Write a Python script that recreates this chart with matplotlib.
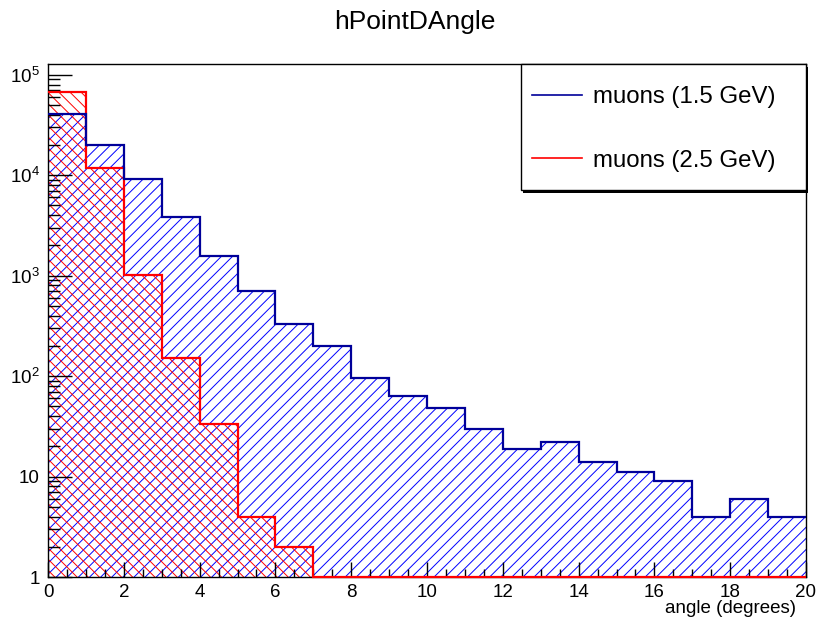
import numpy as np
import matplotlib.pyplot as plt
from matplotlib.patches import Rectangle
from matplotlib.ticker import FixedLocator, MultipleLocator, FuncFormatter, NullFormatter

plt.rcParams['font.family'] = ['Liberation Sans', 'DejaVu Sans']
plt.rcParams['hatch.linewidth'] = 0.7

# Bin edges (degrees) and counts per bin
edges = np.arange(0, 21, 1)
counts_15 = [40300, 19800, 9200, 3850, 1580, 710, 330, 198, 95, 64,
             48, 30, 19, 22, 14, 11, 9, 4, 6, 4]
counts_25 = [67000, 11700, 1020, 150, 33, 4, 2, 0, 0, 0,
             0, 0, 0, 0, 0, 0, 0, 0, 0, 0]
labels = ['muons (1.5 GeV)', 'muons (2.5 GeV)']

ymin, ymax = 1, 1.28e5

fig = plt.figure(figsize=(8.18, 6.21), dpi=100)
ax = fig.add_axes([48 / 818, 44 / 621, 758 / 818, 513 / 621])
ax.set_yscale('log')

# empty bins are drawn on the bottom of the frame, like ROOT does
c15 = np.clip(np.array(counts_15, dtype=float), ymin, None)
c25 = np.clip(np.array(counts_25, dtype=float), ymin, None)

# hatched fills
ax.stairs(c15, edges, baseline=ymin, fill=True, facecolor='none',
          edgecolor='#0000ff', linewidth=0, hatch='///', zorder=1)
ax.stairs(c25, edges, baseline=ymin, fill=True, facecolor='none',
          edgecolor='#ff0000', linewidth=0, hatch='\\\\\\', zorder=1)

# outlines
ax.stairs(c25, edges, baseline=None, color='#ff0000', linewidth=1.6,
          zorder=3, clip_on=False)
ax.stairs(c15, edges, baseline=None, color='#000099', linewidth=1.6,
          zorder=3.1, clip_on=False)

ax.set_xlim(0, 20)
ax.set_ylim(ymin, ymax)

# ticks, ROOT style
ax.xaxis.set_major_locator(MultipleLocator(2))
ax.xaxis.set_minor_locator(MultipleLocator(0.5))
ax.yaxis.set_major_locator(FixedLocator([1, 10, 100, 1e3, 1e4, 1e5]))
minors = [m * 10 ** d for d in range(0, 5) for m in range(2, 10)]
ax.yaxis.set_minor_locator(FixedLocator(minors))
ax.yaxis.set_minor_formatter(NullFormatter())


def ylab(v, pos):
    if v < 5:
        return '1'
    if v < 50:
        return '10'
    return r'$\mathregular{10^{%d}}$' % int(round(np.log10(v)))


ax.yaxis.set_major_formatter(FuncFormatter(ylab))
ax.tick_params(axis='both', which='both', direction='in', top=False, right=False,
               width=1.0, color='black', labelsize=13.5)
ax.tick_params(axis='x', which='major', length=11, pad=5)
ax.tick_params(axis='x', which='minor', length=5.5)
ax.tick_params(axis='y', which='major', length=17, pad=6)
ax.tick_params(axis='y', which='minor', length=8.5)
for s in ax.spines.values():
    s.set_linewidth(1.0)

# title and axis label
fig.text(415 / 818, 1 - 29 / 621, 'hPointDAngle', ha='center', va='baseline', fontsize=19)
fig.text(796 / 818, 1 - 613 / 621, 'angle (degrees)', ha='right', va='baseline', fontsize=13.5)

# legend box in the top right corner
x0 = (521 - 48) / 758
y0 = (577 - 190) / 513
ax.add_patch(Rectangle((x0 + 0.003, y0 - 0.005), 1 - x0, 1 - y0, transform=ax.transAxes,
                       facecolor='black', edgecolor='none', zorder=4, clip_on=False))
ax.add_patch(Rectangle((x0, y0), 1 - x0, 1 - y0, transform=ax.transAxes,
                       facecolor='white', edgecolor='black', linewidth=1.0,
                       zorder=4.1, clip_on=False))
h1, = ax.plot([], [], color='#000099', linewidth=1.2)
h2, = ax.plot([], [], color='#ff0000', linewidth=1.2)
leg = ax.legend([h1, h2], labels, loc='center left',
                bbox_to_anchor=((532 - 48) / 758, (577 - 129) / 513),
                frameon=False, fontsize=17.3, handlelength=2.1, handletextpad=0.45,
                labelspacing=1.72, borderpad=0, borderaxespad=0)
leg.set_zorder(5)

fig.savefig('out.png', dpi=100, facecolor='white')
